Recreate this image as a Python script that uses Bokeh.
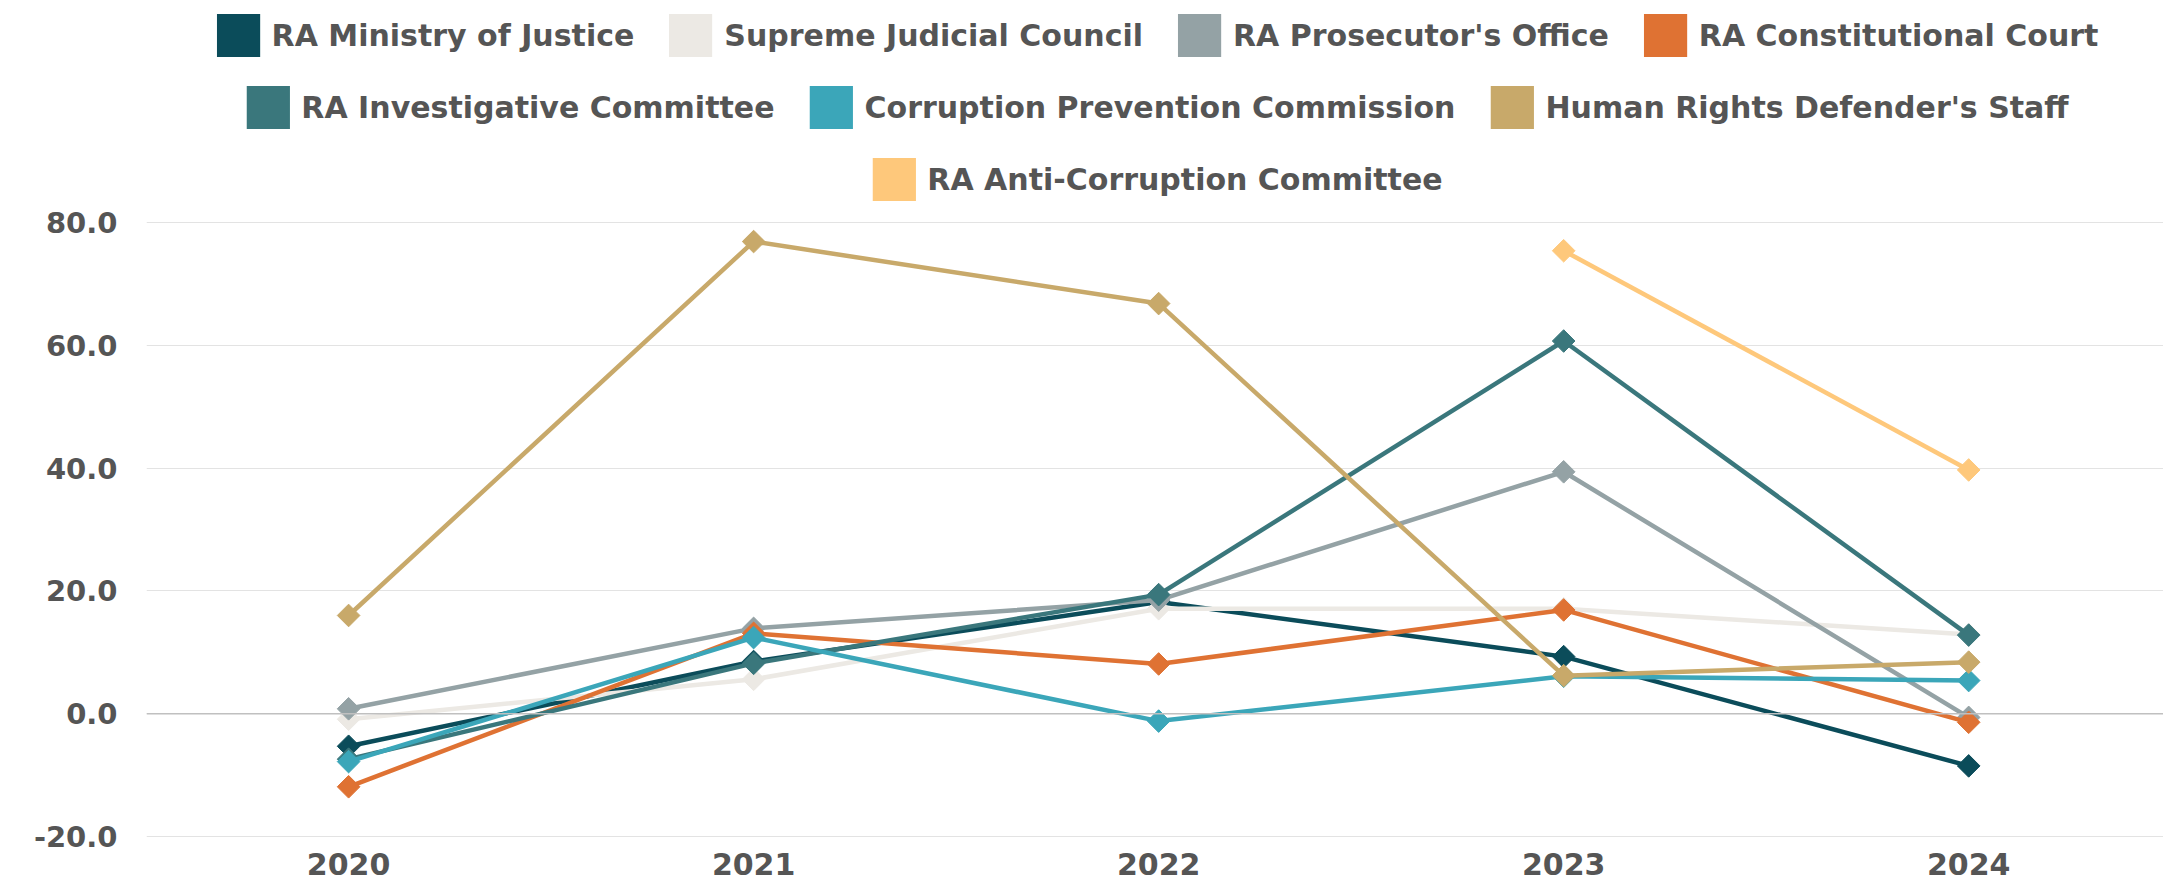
import numpy as np
from bokeh.plotting import figure
from bokeh.models import (Legend, LegendItem, Range1d, FixedTicker,
                          NumeralTickFormatter, Span, ColumnDataSource)
from bokeh.embed import file_html
from bokeh.resources import INLINE

nan = float("nan")

years = [2020, 2021, 2022, 2023, 2024]
y_ticks = [-20, 0, 20, 40, 60, 80]

series_names = [
    "RA Ministry of Justice",
    "Supreme Judicial Council",
    "RA Prosecutor's Office",
    "RA Constitutional Court",
    "RA Investigative Committee",
    "Corruption Prevention Commission",
    "Human Rights Defender's Staff",
    "RA Anti-Corruption Committee",
]
colors = ["#0b4c5a", "#ece9e4", "#94a2a5", "#df7233",
          "#3a777c", "#3ba6b9", "#c8a96a", "#fec87b"]

ministry_of_justice = [-5.3, 8.5, 18.2, 9.3, -8.5]
supreme_judicial_council = [-0.9, 5.6, 17.1, 17.1, 12.9]
prosecutors_office = [0.8, 13.9, 18.5, 39.4, -0.6]
constitutional_court = [-11.9, 13.1, 8.1, 16.9, -1.4]
investigative_committee = [-7.4, 8.2, 19.4, 60.7, 12.8]
corruption_prevention_commission = [-7.8, 12.4, -1.2, 6.1, 5.4]
human_rights_defenders_staff = [16.0, 76.9, 66.8, 6.2, 8.4]
anti_corruption_committee = [nan, nan, nan, 75.4, 39.7]

series_values = [ministry_of_justice, supreme_judicial_council, prosecutors_office,
                 constitutional_court, investigative_committee,
                 corruption_prevention_commission, human_rights_defenders_staff,
                 anti_corruption_committee]

legend_rows = [[0, 1, 2, 3], [4, 5, 6], [7]]

FONT = "DejaVu Sans"
TXT = "#555555"

p = figure(width=2163, height=889,
           x_range=Range1d(2019.501, 2024.481),
           y_range=Range1d(-20.65, 116.16),
           output_backend="svg", toolbar_location=None,
           min_border_left=146, min_border_right=0,
           min_border_bottom=49, min_border_top=0)
p.outline_line_color = None
p.background_fill_color = "white"
p.border_fill_color = "white"

p.xgrid.grid_line_color = None
p.ygrid.ticker = FixedTicker(ticks=y_ticks)
p.ygrid.grid_line_color = "#e3e3e3"
p.ygrid.grid_line_width = 1

yax = p.yaxis[0]
yax.ticker = FixedTicker(ticks=y_ticks)
yax.formatter = NumeralTickFormatter(format="0.0")
yax.axis_line_color = None
yax.major_tick_line_color = None
yax.minor_tick_line_color = None
yax.major_tick_out = 0
yax.major_tick_in = 0
yax.major_label_standoff = 29
yax.major_label_text_font = FONT
yax.major_label_text_font_style = "bold"
yax.major_label_text_font_size = "29px"
yax.major_label_text_color = TXT

xax = p.xaxis[0]
xax.ticker = FixedTicker(ticks=years)
xax.axis_line_color = None
xax.major_tick_line_color = None
xax.minor_tick_line_color = None
xax.major_tick_out = 0
xax.major_tick_in = 0
xax.major_label_standoff = 12
xax.major_label_text_font = FONT
xax.major_label_text_font_style = "bold"
xax.major_label_text_font_size = "30px"
xax.major_label_text_color = TXT

p.add_layout(Span(location=0, dimension="width", line_color="#c0c0c0", line_width=1.5))

legend_glyphs = []
for name, color, vals in zip(series_names, colors, series_values):
    src = ColumnDataSource(dict(x=years, y=vals))
    p.line("x", "y", source=src, line_color=color, line_width=4.5)
    p.scatter("x", "y", source=src, marker="square", angle=np.pi / 4, size=16,
              fill_color=color, line_color=color)
    # swatch-only renderer for the legend (NaN position: nothing drawn in the plot)
    dummy = p.quad(left=[nan], right=[nan], top=[nan], bottom=[nan],
                   fill_color=color, line_color=None)
    legend_glyphs.append(dummy)

row_offsets = [8, 80, 152]
for row, off in zip(legend_rows, row_offsets):
    items = [LegendItem(label=series_names[i], renderers=[legend_glyphs[i]]) for i in row]
    leg = Legend(items=items, orientation="horizontal", location="top_center",
                 glyph_width=54, glyph_height=54, label_standoff=7, spacing=29,
                 padding=0, margin=off, border_line_color=None,
                 background_fill_alpha=0,
                 label_text_font=FONT, label_text_font_style="bold",
                 label_text_font_size="30px", label_text_color=TXT)
    p.add_layout(leg)

open("out.html", "w").write(file_html(p, INLINE, "chart"))
